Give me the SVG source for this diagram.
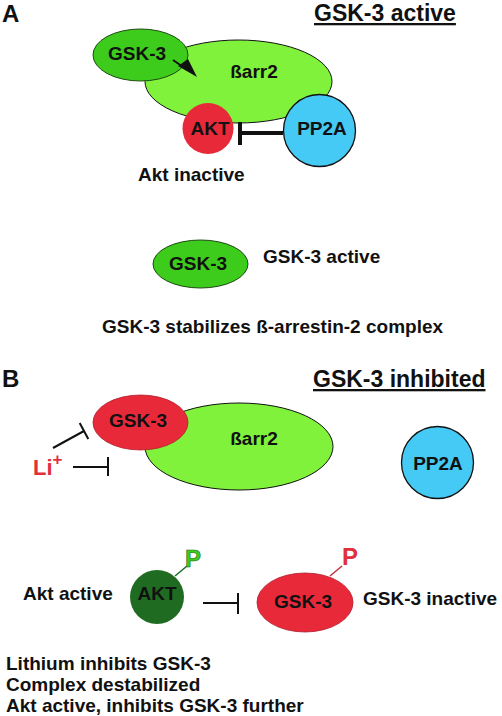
<svg xmlns="http://www.w3.org/2000/svg" width="502" height="716" viewBox="0 0 502 716">
<style>
text{font-family:"Liberation Sans",Arial,sans-serif;font-weight:bold;fill:#111;}
.lbl{font-size:19px;}
.mid{text-anchor:middle;}
.hdr{font-size:23px;text-decoration:underline;}
.pan{font-size:24px;}
.barr{fill:#80f23c;stroke:#111;stroke-width:1;}
.gskg{fill:#3dcc1c;stroke:#1d4a12;stroke-width:1;}
.gskr{fill:#e8293a;stroke:#b0202c;stroke-width:0.8;}
.pp2a{fill:#45c9f5;stroke:#111;stroke-width:1.3;}
.inh{stroke:#111;fill:none;}
</style>
<rect width="502" height="716" fill="#fff"/>

<!-- Panel A -->
<text class="pan" x="2" y="22">A</text>
<text class="hdr" x="314" y="21">GSK-3 active</text>

<g id="barr2-a">
<ellipse class="barr" cx="238.5" cy="81.5" rx="93.5" ry="41.5"/>
<text class="lbl mid" x="254" y="78">ßarr2</text>
</g>
<g id="gsk3-a">
<ellipse class="gskg" cx="140.5" cy="55" rx="47.5" ry="26"/>
<text class="lbl mid" x="137" y="60">GSK-3</text>
</g>
<g id="akt-a">
<circle cx="208" cy="128.5" r="25.5" fill="#e8293a"/>
<text class="lbl mid" x="210" y="135">AKT</text>
</g>
<g id="pp2a-a">
<circle class="pp2a" cx="319.5" cy="130.5" r="36"/>
<text class="lbl mid" x="322" y="135">PP2A</text>
</g>
<text class="lbl" x="138" y="181">Akt inactive</text>

<g id="gsk3-a2">
<ellipse class="gskg" cx="200.5" cy="264" rx="47.5" ry="24"/>
<text class="lbl mid" x="198" y="270">GSK-3</text>
</g>
<text class="lbl" x="263" y="263">GSK-3 active</text>
<text class="lbl" x="102" y="333">GSK-3 stabilizes ß-arrestin-2 complex</text>

<!-- Panel B -->
<text class="pan" x="2" y="387">B</text>
<text class="hdr" x="313" y="387">GSK-3 inhibited</text>

<g id="barr2-b">
<ellipse class="barr" cx="239" cy="446.5" rx="94" ry="43.5"/>
<text class="lbl mid" x="254" y="445">ßarr2</text>
</g>
<g id="gsk3-b">
<ellipse class="gskr" cx="140.5" cy="422.5" rx="47.5" ry="27.5"/>
<text class="lbl mid" x="138" y="427">GSK-3</text>
</g>
<g id="pp2a-b">
<circle class="pp2a" cx="437.5" cy="462.5" r="36"/>
<text class="lbl mid" x="438" y="470">PP2A</text>
</g>
<g id="li">
<text x="33" y="475" style="font-size:22px;fill:#e0303c">Li<tspan dy="-10" style="font-size:17px">+</tspan></text>
</g>

<g id="akt-b">
<circle cx="157" cy="597" r="27" fill="#1f6b21"/>
<text class="lbl mid" x="157" y="600">AKT</text>
<text x="185" y="567" style="font-size:24px;fill:#3dcc1c;stroke:#1f6b21;stroke-width:0.6">P</text>
</g>
<g id="gsk3-b2">
<ellipse class="gskr" cx="305" cy="602.5" rx="48" ry="29.5"/>
<text class="lbl mid" x="303" y="608">GSK-3</text>
<text x="342" y="565" style="font-size:24px;fill:#e0303c">P</text>
</g>
<text class="lbl" x="23" y="600">Akt active</text>
<text class="lbl" x="363" y="605">GSK-3 inactive</text>

<text class="lbl" x="6" y="670">Lithium inhibits GSK-3</text>
<text class="lbl" x="6" y="691">Complex destabilized</text>
<text class="lbl" x="6" y="712">Akt active, inhibits GSK-3 further</text>

<g id="connectors">
<line x1="173" y1="60" x2="186" y2="69" stroke="#111" stroke-width="2"/>
<polygon points="197,77 178,66 188,59" fill="#111"/>
<line class="inh" x1="240" y1="133" x2="283" y2="133" stroke-width="4"/>
<line class="inh" x1="240" y1="122" x2="240" y2="145" stroke-width="4"/>
<line class="inh" x1="53" y1="448" x2="84" y2="431" stroke-width="2"/>
<line class="inh" x1="79.7" y1="423.1" x2="88.3" y2="438.9" stroke-width="2"/>
<line class="inh" x1="73" y1="467" x2="108" y2="467" stroke-width="2"/>
<line class="inh" x1="108" y1="457" x2="108" y2="476" stroke-width="2"/>
<line class="inh" x1="203" y1="603" x2="238" y2="603" stroke-width="2"/>
<line class="inh" x1="238" y1="593" x2="238" y2="614" stroke-width="2"/>
<line x1="175" y1="576" x2="187" y2="566" stroke="#1f6b21" stroke-width="1.5"/>
<line x1="330" y1="576" x2="342" y2="566" stroke="#c0303c" stroke-width="1.5"/>
</g>
</svg>
